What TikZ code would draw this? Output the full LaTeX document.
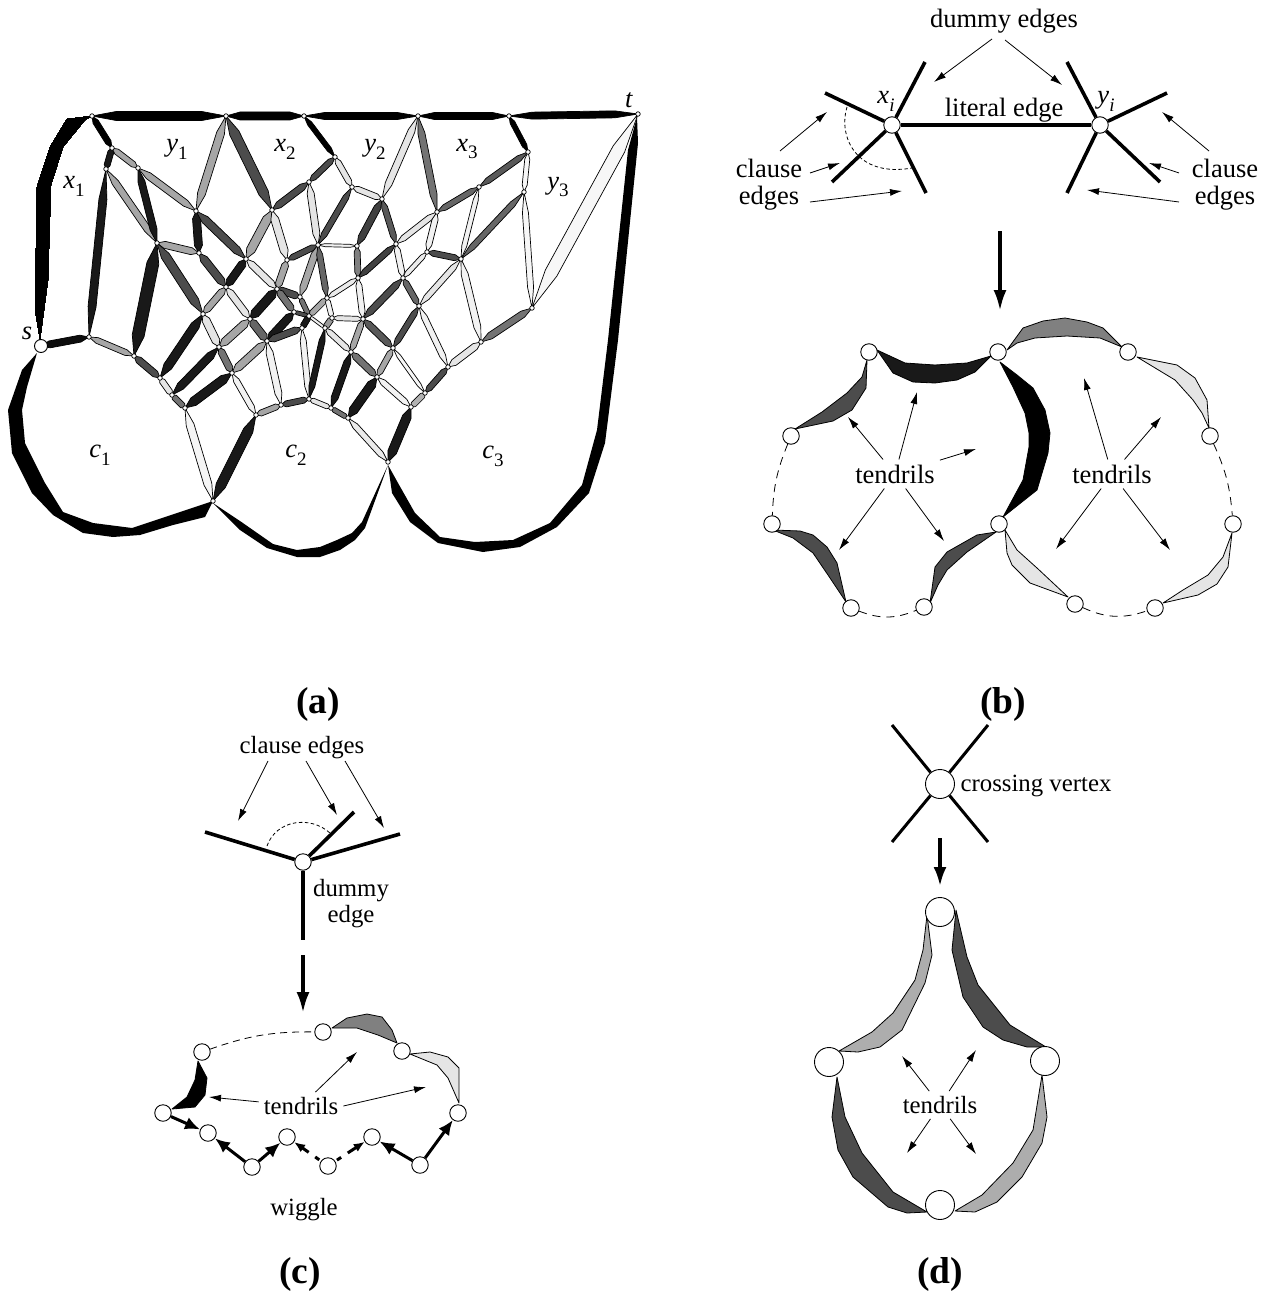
\documentclass[tikz,border=0pt]{standalone}
\usepackage{fontspec}
\setmainfont{Liberation Serif}
\usetikzlibrary{arrows.meta,calc,backgrounds}

\newcommand{\lensedge}[4]{%
  \draw[lens, fill=black!#4] (#1.center)
    -- ($(#1)!.18!(#2)!#3pt!90:(#2)$) -- ($(#1)!.82!(#2)!#3pt!90:(#2)$)
    -- (#2.center)
    -- ($(#1)!.82!(#2)!#3pt!-90:(#2)$) -- ($(#1)!.18!(#2)!#3pt!-90:(#2)$) -- cycle;}
\newcommand{\subtxt}[2]{\textit{#1}\raisebox{-.3em}{\fontsize{19}{19}\selectfont #2}}

\tikzset{
  lens/.style={line width=.7pt, line join=round},
  tendril/.style={line width=.8pt, line join=round},
  tinyvtx/.style={circle, draw, fill=white, inner sep=0pt, minimum size=4.5pt, line width=.7pt},
  midvtx/.style={circle, draw, fill=white, inner sep=0pt, minimum size=16.5pt, line width=.9pt},
  bigvtx/.style={circle, draw, fill=white, inner sep=0pt, minimum size=29pt, line width=.9pt},
  lblbig/.style={font=\fontsize{26.5}{27}\selectfont, align=center, inner sep=5pt},
  lblsmall/.style={font=\fontsize{24.8}{26}\selectfont, align=center, inner sep=5pt},
  figtag/.style={font=\fontsize{37.5}{40}\selectfont\bfseries, inner sep=0pt},
  thinarrow/.style={line width=.8pt, -{Latex[length=12pt,width=7pt]}},
  bigarrow/.style={line width=3.6pt, -{Latex[length=21pt,width=13pt]}},
  wigarrow/.style={line width=3pt, -{Latex[length=15pt,width=13pt]}},
  stubedge/.style={line width=3.6pt},
  dashlink/.style={line width=.8pt, dash pattern=on 8pt off 6pt},
}

\begin{document}
\begin{tikzpicture}[x=1pt,y=-1pt]
\useasboundingbox (0,0) rectangle (1271,1292);

\foreach \nm/\px/\py in {p1/92/116,p2/226/116,p3/304/116,p4/418/116,p5/509/116,t/638/114,
  v1/112/148,v2/106/169,v3/138/168,v4/196/211,v5/272/210,v6/309/182,v7/335/157,v8/157/243,
  v9/199/253,v10/246/259,v11/287/260,v12/318/245,v13/89/337,v14/134/356,v15/160/378,
  v16/172/395,v17/185/408,v18/232/373,v19/219/347,v20/203/314,v21/226/287,v22/250/319,
  v23/267/341,v24/277/289,v25/300/297,v26/294/312,v27/309/316,v28/302/328,v29/325/328,
  v30/332/318,v31/327/298,v32/256/415,v33/281/405,v34/309/399,v35/331/408,v36/348/418,
  v37/352/187,v38/382/199,v39/437/212,v40/479/187,v41/528/152,v42/524/192,v43/532/308,
  v44/461/259,v45/427/252,v46/396/244,v47/403/278,v48/419/306,v49/357/246,v50/358/278,
  v51/363/319,v52/351/352,v53/377/377,v54/393/348,v55/481/342,v56/448/367,v57/425/393,
  v58/411/407,v59/213/501,v60/388/462}
  \node[tinyvtx] (\nm) at (\px,\py) {};
\node[circle, draw, fill=white, inner sep=0pt, minimum size=13pt, line width=.9pt] (s) at (41,346) {};

\begin{pgfonlayer}{background}
\foreach \ea/\eb/\hw/\k in {p1/p2/4.5/100,p2/p3/4/100,p3/p4/3.5/100,p4/p5/3.5/100,p5/t/3.5/100,
  p1/v1/3/100,v1/v2/3/90,v2/v13/4/90,v1/v3/3/35,v2/v8/3.5/35,v3/v8/3.5/90,v3/v4/3.5/35,
  v4/p2/4/35,p2/v5/5/70,v5/v6/3.5/70,v6/v7/3/70,p3/v7/2.5/100,v4/v9/4/90,v4/v10/4/70,
  v8/v9/3.5/35,v9/v21/4/70,v10/v21/4/90,v10/v5/4.5/35,v5/v11/4/10,v6/v12/3.5/10,v11/v12/3/70,
  v10/v24/3.5/10,v11/v24/3.5/35,v12/v25/3.5/35,v12/v31/3/60,v8/v20/4.5/70,v8/v14/6/90,
  v20/v21/3.5/35,v21/v22/3.5/10,v22/v24/4.5/90,v20/v15/4.5/90,v20/v19/4/10,v19/v22/4/35,
  v19/v16/4/90,v19/v18/3.5/55,v18/v23/4/35,v22/v23/4/60,v23/v26/4/90,v23/v28/3.5/70,
  v24/v25/3.5/70,v24/v26/3.5/55,v25/v27/2.5/55,v26/v27/2/70,v27/v28/3/90,v27/v29/1.5/5,
  v27/v31/3/35,v31/v30/2.5/5,v30/v29/3/40,v30/v51/2.5/10,v28/v34/3/5,v23/v33/3.5/5,
  v18/v32/3/5,v32/v33/3/35,v33/v34/3/70,v34/v35/2.5/10,v29/v34/3/90,s/v13/3.5/95,v13/v14/3/35,
  v14/v15/3.5/70,v15/v16/3/10,v16/v17/3/55,v17/v18/4.5/90,v17/v59/4/4,v32/v59/5/90,
  v7/v37/3/10,v37/v38/3/10,v38/p4/3.5/10,p4/v39/3.5/55,v39/v40/3/60,v40/v41/3/65,v41/p5/2.5/100,
  v41/v42/2.5/3,v42/v43/3/3,v43/t/6.5/3,v42/v44/3/60,v40/v44/2.5/5,v44/v45/3/70,v44/v48/3/10,
  v44/v55/3.5/5,v45/v39/3/5,v39/v46/3/10,v38/v46/3/65,v37/v12/3/70,v38/v49/3.5/75,v12/v49/1.5/5,
  v49/v50/3/50,v46/v50/3/75,v46/v47/3/5,v45/v47/2.5/8,v47/v51/3.5/70,v47/v48/3/60,v50/v31/2.5/8,
  v50/v51/3/5,v48/v54/3/70,v48/v56/3/5,v56/v55/3.5/10,v55/v43/3.5/55,v56/v57/3/70,v57/v54/2/3,
  v57/v58/3/30,v58/v53/3/5,v53/v54/3/35,v53/v52/3.5/55,v52/v51/3/35,v51/v54/3.5/65,v52/v29/3/10,
  v52/v35/3.5/90,v53/v36/4.5/90,v35/v36/2.5/55,v36/v60/3/8,v58/v60/4.5/90}
  \lensedge{\ea}{\eb}{\hw}{\k}
\fill (40,340) -- (35,310) -- (37,187) -- (50,147) -- (67,119) -- (92,116) -- (85,120) -- (63,147) -- (51,185) -- (48,280) -- cycle;
\fill (37,353) -- (22,370) -- (8,410) -- (12,453) -- (32,493) -- (53,515) -- (83,533) -- (113,537) -- (140,535) -- (173,525) -- (205,517)
  -- (213,501) -- (177,513) -- (132,528) -- (93,523) -- (63,512) -- (45,483) -- (25,443) -- (22,410) -- (27,387) -- cycle;
\fill (213,503) -- (240,530) -- (267,548) -- (297,557) -- (320,557) -- (340,550) -- (355,540) -- (365,528) -- (388,465)
  -- (362,522) -- (352,533) -- (337,540) -- (320,547) -- (297,550) -- (273,544) -- (240,521) -- cycle;
\fill (388,465) -- (398,483) -- (415,513) -- (440,537) -- (475,542) -- (513,540) -- (550,523) -- (582,485) -- (597,430) -- (608,340) -- (628,150) -- (637,117)
  -- (638,143) -- (618,340) -- (605,443) -- (589,493) -- (557,527) -- (520,547) -- (483,552) -- (438,543) -- (410,522) -- (392,493) -- cycle;
\end{pgfonlayer}

\node[lblbig, inner sep=0pt] (ls) at (27,333) {\textit{s}};
\node[lblbig, inner sep=0pt] (lt) at (629,100) {\textit{t}};
\foreach \nm/\lx/\ly/\ch/\dg in {lx1/74/186/x/1,ly1/177/149/y/1,lx2/285/149/x/2,ly2/375/149/y/2,
  lx3/467/149/x/3,ly3/558/187/y/3,lc1/100/455/c/1,lc2/296/455/c/2,lc3/493/456/c/3}
  \node[lblbig, inner sep=0pt] (\nm) at (\lx,\ly) {\subtxt{\ch}{\dg}};

\node[figtag] (taga) at (318,704) {(a)};
\node[figtag] (tagb) at (1003,704) {(b)};
\node[figtag] (tagc) at (300,1274) {(c)};
\node[figtag] (tagd) at (940,1274) {(d)};

\node[midvtx] (xi) at (892,125) {};
\node[midvtx] (yi) at (1100,125) {};
\draw[stubedge] (xi) -- (yi);
\foreach \i/\px/\py in {1/825/93,2/925/62,3/832/182,4/926/193} {
  \coordinate (xs\i) at (\px,\py);
  \draw[stubedge] (xi) -- (xs\i);
}
\foreach \i/\px/\py in {1/1067/62,2/1167/93,3/1160/182,4/1067/193} {
  \coordinate (ys\i) at (\px,\py);
  \draw[stubedge] (yi) -- (ys\i);
}
\draw[line width=.8pt, dash pattern=on 3.5pt off 2.5pt] (847,107) .. controls (838,135) and (855,178) .. (912,168);
\node[lblbig] (dumb) at (1004,21) {dummy edges};
\node[lblbig, inner sep=0pt] (litb) at (1004,110) {literal edge};
\node[lblbig, inner sep=0pt] (lxi) at (886,101) {\subtxt{x}{\textit{i}}};
\node[lblbig, inner sep=0pt] (lyi) at (1106,101) {\subtxt{y}{\textit{i}}};
\node[lblbig, inner sep=0pt] (clbl) at (769,185) {clause\\edges};
\node[lblbig, inner sep=0pt] (clbr) at (1225,185) {clause\\edges};
\coordinate (da) at (934,82);
\coordinate (db) at (1062,85);
\draw[thinarrow] ([shift={(-12,18)}]dumb.center) -- (da);
\draw[thinarrow] ([shift={(1,19)}]dumb.center) -- (db);
\foreach \i/\sx/\sy/\px/\py in {1/11/-34/827/112,2/41/-12/840/163,3/41/17/902/191} {
  \coordinate (cl\i) at (\px,\py);
  \draw[thinarrow] ([shift={(\sx,\sy)}]clbl.center) -- (cl\i);
}
\foreach \i/\sx/\sy/\px/\py in {1/-16/-34/1162/112,2/-46/-12/1149/163,3/-46/17/1087/190} {
  \coordinate (cr\i) at (\px,\py);
  \draw[thinarrow] ([shift={(\sx,\sy)}]clbr.center) -- (cr\i);
}
\coordinate (ba) at (1000,231);
\coordinate (bb) at (1000,311);
\draw[bigarrow] (ba) -- (bb);

\foreach \nm/\px/\py in {b1/869/352,b2/998/352,b3/1128/352,b4/791/436,b5/1210/436,b6/772/524,
  b7/999/524,b8/1233/524,b9/851/608,b10/924/607,b11/1075/604,b12/1155/608}
  \node[midvtx] (\nm) at (\px,\py) {};
\draw[dashlink] (b4) to[bend right=10] (b6);
\draw[dashlink] (b9) to[bend right=22] (b10);
\draw[dashlink] (b11) to[bend right=22] (b12);
\draw[dashlink] (b5) to[bend left=10] (b8);
\begin{pgfonlayer}{background}
\draw[tendril, fill=black!70] (867,360) -- (866,388) -- (852,410) -- (833,421) -- (795,429) -- (822,412) -- (847,393) -- (862,377) -- cycle;
\draw[tendril, fill=black!90] (877,350) -- (893,373) -- (913,382) -- (935,383) -- (957,380) -- (975,372) -- (991,356) -- (967,363) -- (935,365) -- (905,363) -- cycle;
\draw[tendril, fill=black] (1000,362) -- (1017,375) -- (1033,388) -- (1045,410) -- (1050,433) -- (1048,453) -- (1037,490) -- (1003,517) -- (1023,480) -- (1029,447) -- (1029,433) -- (1025,413) -- (1013,387) -- cycle;
\draw[tendril, fill=black!50] (1007,350) -- (1023,328) -- (1043,321) -- (1065,318) -- (1087,322) -- (1103,328) -- (1122,347) -- (1100,338) -- (1067,336) -- (1035,338) -- (1017,343) -- cycle;
\draw[tendril, fill=black!10] (1137,357) -- (1177,365) -- (1195,378) -- (1207,400) -- (1209,428) -- (1202,413) -- (1193,400) -- (1175,380) -- cycle;
\draw[tendril, fill=black!70] (773,530) -- (800,531) -- (813,535) -- (827,547) -- (837,563) -- (846,602) -- (828,575) -- (813,553) -- (793,538) -- cycle;
\draw[tendril, fill=black!70] (996,532) -- (977,535) -- (947,552) -- (935,567) -- (930,603) -- (938,585) -- (947,570) -- (967,552) -- cycle;
\draw[tendril, fill=black!10] (1005,530) -- (1007,553) -- (1012,565) -- (1030,583) -- (1068,597) -- (1037,568) -- (1017,550) -- cycle;
\draw[tendril, fill=black!10] (1163,603) -- (1198,595) -- (1217,584) -- (1228,567) -- (1232,533) -- (1223,557) -- (1208,575) -- (1183,590) -- cycle;
\end{pgfonlayer}
\node[lblbig] (tb1) at (895,474) {tendrils};
\node[lblbig] (tb2) at (1112,474) {tendrils};
\foreach \i/\px/\py in {1/848/417,2/917/392,3/976/449,4/839/550,5/944/541} {
  \coordinate (tp\i) at (\px,\py);
  \draw[thinarrow] (tb1) -- (tp\i);
}
\foreach \i/\px/\py in {1/1084/378,2/1161/417,3/1056/549,4/1170/550} {
  \coordinate (tq\i) at (\px,\py);
  \draw[thinarrow] (tb2) -- (tq\i);
}

\node[midvtx] (cv) at (303,862) {};
\foreach \i/\px/\py in {1/205/832,2/354/812,3/400/834,4/303/940} {
  \coordinate (ce\i) at (\px,\py);
  \draw[stubedge] (cv) -- (ce\i);
}
\draw[line width=.8pt, dash pattern=on 3.5pt off 2.5pt] (267,846) .. controls (276,820) and (310,815) .. (330,833);
\node[lblsmall, inner sep=0pt] (clc) at (302,748) {clause edges};
\node[lblsmall, inner sep=0pt] (duc) at (351,904) {dummy\\edge};
\foreach \i/\sx/\px/\py in {1/-34/238/821,2/4/337/815,3/43/384/828} {
  \coordinate (ca\i) at (\px,\py);
  \draw[thinarrow] ([shift={(\sx,13)}]clc.center) -- (ca\i);
}
\coordinate (ca) at (303,955);
\coordinate (cb) at (303,1013);
\draw[bigarrow] (ca) -- (cb);
\foreach \nm/\px/\py in {c1/323/1032,c2/402/1051,c3/202/1052,c4/163/1113,c5/458/1113,c6/208/1133,
  c7/252/1167,c8/287/1137,c9/328/1166,c10/372/1137,c11/420/1165}
  \node[midvtx] (\nm) at (\px,\py) {};
\draw[dashlink, dash pattern=on 7pt off 5pt] (c3) to[bend left=10] (c1);
\draw[wigarrow] (c4) -- (c6);
\draw[wigarrow] (c7) -- (c6);
\draw[wigarrow] (c7) -- (c8);
\draw[wigarrow, -{Latex[length=11pt,width=9pt]}, dash pattern=on 0pt off 2pt on 5pt off 8pt on 14pt] (c9) -- (c8);
\draw[wigarrow, -{Latex[length=11pt,width=9pt]}, dash pattern=on 0pt off 2pt on 5pt off 8pt on 14pt] (c9) -- (c10);
\draw[wigarrow] (c11) -- (c10);
\draw[wigarrow] (c11) -- (c5);
\begin{pgfonlayer}{background}
\draw[tendril, fill=black!50] (332,1028) -- (347,1018) -- (367,1014) -- (382,1017) -- (392,1030) -- (397,1043) -- (378,1035) -- (357,1028) -- cycle;
\draw[tendril, fill=black!10] (410,1054) -- (430,1052) -- (448,1057) -- (459,1068) -- (459,1103) -- (448,1078) -- (437,1065) -- cycle;
\draw[tendril, fill=black] (198,1061) -- (207,1078) -- (205,1095) -- (195,1107) -- (172,1109) -- (187,1097) -- (195,1080) -- cycle;
\end{pgfonlayer}
\node[lblsmall] (tc) at (301,1106) {tendrils};
\coordinate (tc1) at (209,1097);
\coordinate (tc2) at (357,1052);
\coordinate (tc3) at (426,1087);
\draw[thinarrow] (tc) -- (tc1);
\draw[thinarrow] (tc) -- (tc2);
\draw[thinarrow] (tc.east) -- (tc3);
\node[lblsmall, inner sep=0pt] (wg) at (304,1210) {wiggle};

\node[bigvtx] (dc) at (940,784) {};
\foreach \i/\px/\py in {1/892/725,2/988/725,3/892/842,4/988/842} {
  \coordinate (de\i) at (\px,\py);
  \draw[line width=3pt] (dc) -- (de\i);
}
\node[lblsmall, inner sep=0pt] (cvx) at (1036,786) {crossing vertex};
\coordinate (dca) at (940,838);
\coordinate (dcb) at (940,886);
\draw[line width=3.2pt, -{Latex[length=19pt,width=13pt]}] (dca) -- (dcb);
\foreach \nm/\px/\py in {d1/940/912,d2/829/1062,d3/1045/1061,d4/940/1205}
  \node[bigvtx] (\nm) at (\px,\py) {};
\begin{pgfonlayer}{background}
\draw[tendril, fill=black!32] (927,915) -- (932,955) -- (925,983) -- (902,1030) -- (880,1047) -- (858,1052) -- (839,1051) -- (872,1032) -- (893,1013) -- (915,980) -- (923,950) -- cycle;
\draw[tendril, fill=black!70] (956,910) -- (967,957) -- (978,985) -- (1010,1025) -- (1046,1047) -- (1027,1047) -- (1003,1040) -- (983,1027) -- (963,997) -- (952,950) -- cycle;
\draw[tendril, fill=black!70] (837,1077) -- (845,1117) -- (862,1153) -- (893,1192) -- (927,1212) -- (907,1213) -- (888,1207) -- (853,1177) -- (838,1150) -- (832,1117) -- cycle;
\draw[tendril, fill=black!32] (1042,1075) -- (1047,1117) -- (1042,1143) -- (1022,1177) -- (997,1202) -- (975,1212) -- (955,1211) -- (982,1195) -- (1013,1163) -- (1033,1130) -- cycle;
\end{pgfonlayer}
\node[lblsmall] (td) at (940,1105) {tendrils};
\foreach \i/\px/\py in {1/902/1056,2/976/1050,3/907/1153,4/976/1154} {
  \coordinate (tg\i) at (\px,\py);
  \draw[thinarrow] (td) -- (tg\i);
}
\end{tikzpicture}
\end{document}
